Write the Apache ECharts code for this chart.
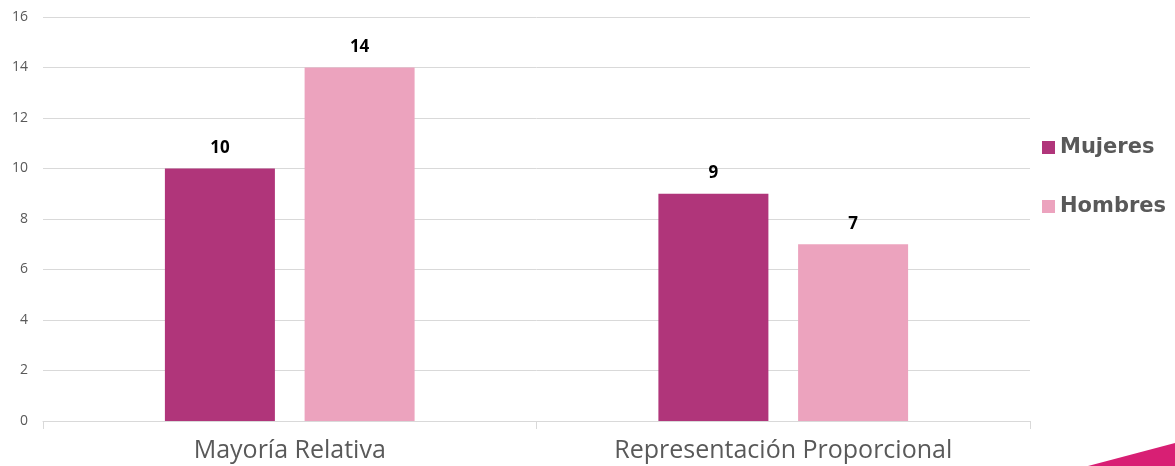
<!DOCTYPE html>
<html>
<head>
<meta charset="utf-8">
<script src="https://cdn.jsdelivr.net/npm/echarts@6/dist/echarts.min.js"></script>
<style>
  html, body { margin: 0; padding: 0; background: #fff; }
  #chart-container { width: 1175px; height: 466px; }
</style>
</head>
<body>
<div id="chart-container"></div>
<script>
var categories = ["Mayoría Relativa", "Representación Proporcional"];
var mujeres = [10, 9];
var hombres = [14, 7];
var yTicks = { min: 0, max: 16, interval: 2 };

var dom = document.getElementById("chart-container");
var myChart = echarts.init(dom, null, { renderer: "canvas" });

var valueLabel = {
  show: true,
  position: "top",
  distance: 12,
  color: "#000",
  fontWeight: "bold",
  fontSize: 17,
  fontFamily: "Open Sans"
};

var option = {
  animation: false,
  textStyle: { fontFamily: "Open Sans" },
  grid: { left: 43, right: 145, top: 17, bottom: 45 },
  legend: {
    orient: "vertical",
    left: 1037,
    top: 132,
    itemWidth: 13,
    itemHeight: 13,
    itemGap: 38,
    icon: "rect",
    textStyle: { color: "#595959", fontSize: 21, fontWeight: "bold", fontFamily: "DejaVu Sans" },
    data: ["Mujeres", "Hombres"]
  },
  xAxis: {
    type: "category",
    data: categories,
    axisLine: { lineStyle: { color: "#d9d9d9" } },
    axisTick: { show: true, length: 8, lineStyle: { color: "#d9d9d9" } },
    axisLabel: { color: "#595959", fontSize: 25, margin: 17, fontFamily: "Open Sans" }
  },
  yAxis: {
    type: "value",
    min: yTicks.min,
    max: yTicks.max,
    interval: yTicks.interval,
    axisLine: { show: false },
    axisTick: { show: false },
    axisLabel: { color: "#595959", fontSize: 14, margin: 15 },
    splitLine: { lineStyle: { color: "#d9d9d9" } }
  },
  series: [
    {
      name: "Mujeres",
      type: "bar",
      data: mujeres,
      barWidth: 110,
      barGap: "27%",
      itemStyle: { color: "#b0357a" },
      label: valueLabel
    },
    {
      name: "Hombres",
      type: "bar",
      data: hombres,
      barWidth: 110,
      itemStyle: { color: "#eca3be" },
      label: valueLabel
    }
  ],
  graphic: [
    {
      type: "polygon",
      shape: { points: [[1088, 466], [1175, 443], [1175, 466]] },
      style: { fill: "#d81f74" }
    }
  ]
};

myChart.setOption(option);
window.addEventListener("resize", myChart.resize);
</script>
</body>
</html>
